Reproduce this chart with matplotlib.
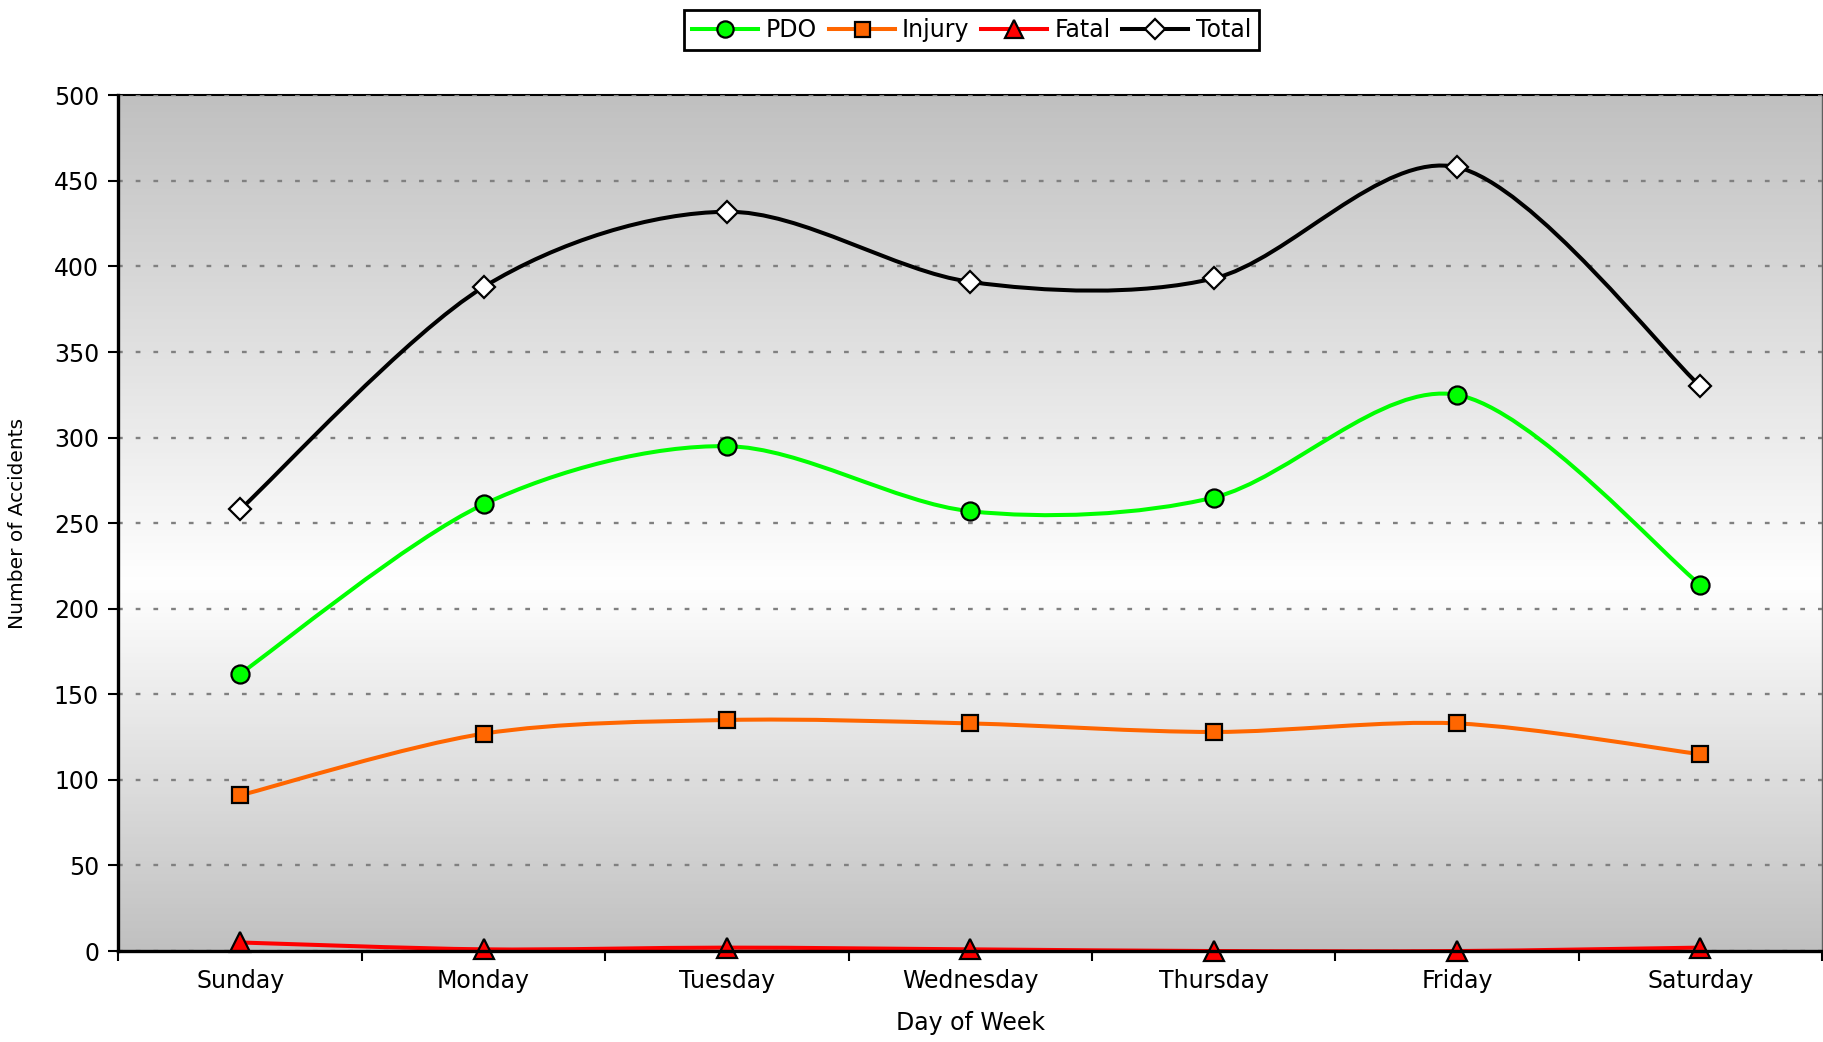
import numpy as np
import matplotlib
matplotlib.use("Agg")
import matplotlib.pyplot as plt
from matplotlib.path import Path
from matplotlib.patches import PathPatch
from matplotlib.lines import Line2D
from matplotlib.colors import LinearSegmentedColormap

# values
days = ["Sunday", "Monday", "Tuesday", "Wednesday", "Thursday", "Friday", "Saturday"]
pdo = [162, 261, 295, 257, 265, 325, 214]
injury = [91, 127, 135, 133, 128, 133, 115]
fatal = [5, 1, 2, 1, 0, 0, 2]
total = [258, 388, 432, 391, 393, 458, 330]

plt.rcParams['font.family'] = ['DejaVu Sans']


def smooth_path(xs, ys, k=6.5):
    # Excel-style smoothed line: cubic bezier through every point
    n = len(xs)
    verts = [(xs[0], ys[0])]
    codes = [Path.MOVETO]
    for i in range(n - 1):
        a = i - 1 if i > 0 else i
        d = i + 2 if i + 2 < n else i + 1
        c1 = (xs[i] + (xs[i + 1] - xs[a]) / k, ys[i] + (ys[i + 1] - ys[a]) / k)
        c2 = (xs[i + 1] - (xs[d] - xs[i]) / k, ys[i + 1] - (ys[d] - ys[i]) / k)
        verts += [c1, c2, (xs[i + 1], ys[i + 1])]
        codes += [Path.CURVE4] * 3
    return Path(verts, codes)


fig = plt.figure(figsize=(18.23, 10.42), dpi=100)
ax = fig.add_axes([0.065, 0.0873, 0.9345, 0.8212])

x = np.arange(len(days))

# gradient plot area: grey at top/bottom, white near the middle
cmap = LinearSegmentedColormap.from_list("bg", [(0, "#c0c0c0"), (0.43, "#ffffff"), (1, "#c0c0c0")])
grad = np.linspace(0, 1, 256).reshape(-1, 1)
ax.imshow(grad, extent=[-0.5, 6.5, 0, 500], aspect="auto", cmap=cmap, origin="lower", zorder=0)

series = [
    ("PDO", pdo, "#00ff00", "o", "#00ff00", 13),
    ("Injury", injury, "#ff6600", "s", "#ff6600", 12),
    ("Fatal", fatal, "#ff0000", "^", "#ff0000", 14),
    ("Total", total, "#000000", "D", "#ffffff", 11),
]

handles = []
for name, vals, col, mk, fc, ms in series:
    ax.add_patch(PathPatch(smooth_path(x, vals), fill=False, edgecolor=col, lw=2.9, zorder=3,
                           capstyle="round", joinstyle="round"))
    ax.plot(x, vals, linestyle="none", marker=mk, markersize=ms, markerfacecolor=fc,
            markeredgecolor="black", markeredgewidth=1.6, zorder=4, clip_on=False)
    handles.append(Line2D([], [], color=col, lw=2.9, marker=mk, markersize=ms * 0.9,
                          markerfacecolor=fc, markeredgecolor="black", markeredgewidth=1.6, label=name))

ax.set_xlim(-0.5, 6.5)
ax.set_ylim(0, 500)
ax.set_yticks(np.arange(0, 501, 50))

ax.set_xticks(np.arange(-0.5, 7, 1))
ax.set_xticklabels([])
ax.set_xticks(x, minor=True)
ax.set_xticklabels(days, minor=True)
ax.tick_params(axis="x", which="major", length=7, width=1.5, direction="out")
ax.tick_params(axis="x", which="minor", length=0, pad=13, labelsize=17)
ax.tick_params(axis="y", length=7, width=1.5, pad=7, labelsize=17)

ax.yaxis.grid(True, color="#808080", linestyle=(0, (2, 5.5)), lw=1.7)
ax.set_axisbelow(False)
for gl in ax.get_ygridlines():
    gl.set_zorder(1)

for s in ["left", "bottom"]:
    ax.spines[s].set_linewidth(2.4)
    ax.spines[s].set_color("black")
    ax.spines[s].set_zorder(5)
ax.spines["top"].set_linewidth(1.5)
ax.spines["right"].set_linewidth(1.0)
ax.spines["right"].set_color("#606060")

ax.set_ylabel("Number of Accidents", fontsize=14.5)
ax.yaxis.set_label_coords(-0.054, 0.5)
ax.set_xlabel("Day of Week", fontsize=17)
ax.xaxis.set_label_coords(0.5, -0.07)

leg = fig.legend(handles=handles, loc="upper center", bbox_to_anchor=(0.533, 1.002), ncol=4,
                 fontsize=17, frameon=True, fancybox=False, edgecolor="black", framealpha=1,
                 handlelength=2.8, handletextpad=0.3, columnspacing=0.5, borderpad=0.35)
leg.get_frame().set_linewidth(2)

fig.savefig("out.png", dpi=100)
